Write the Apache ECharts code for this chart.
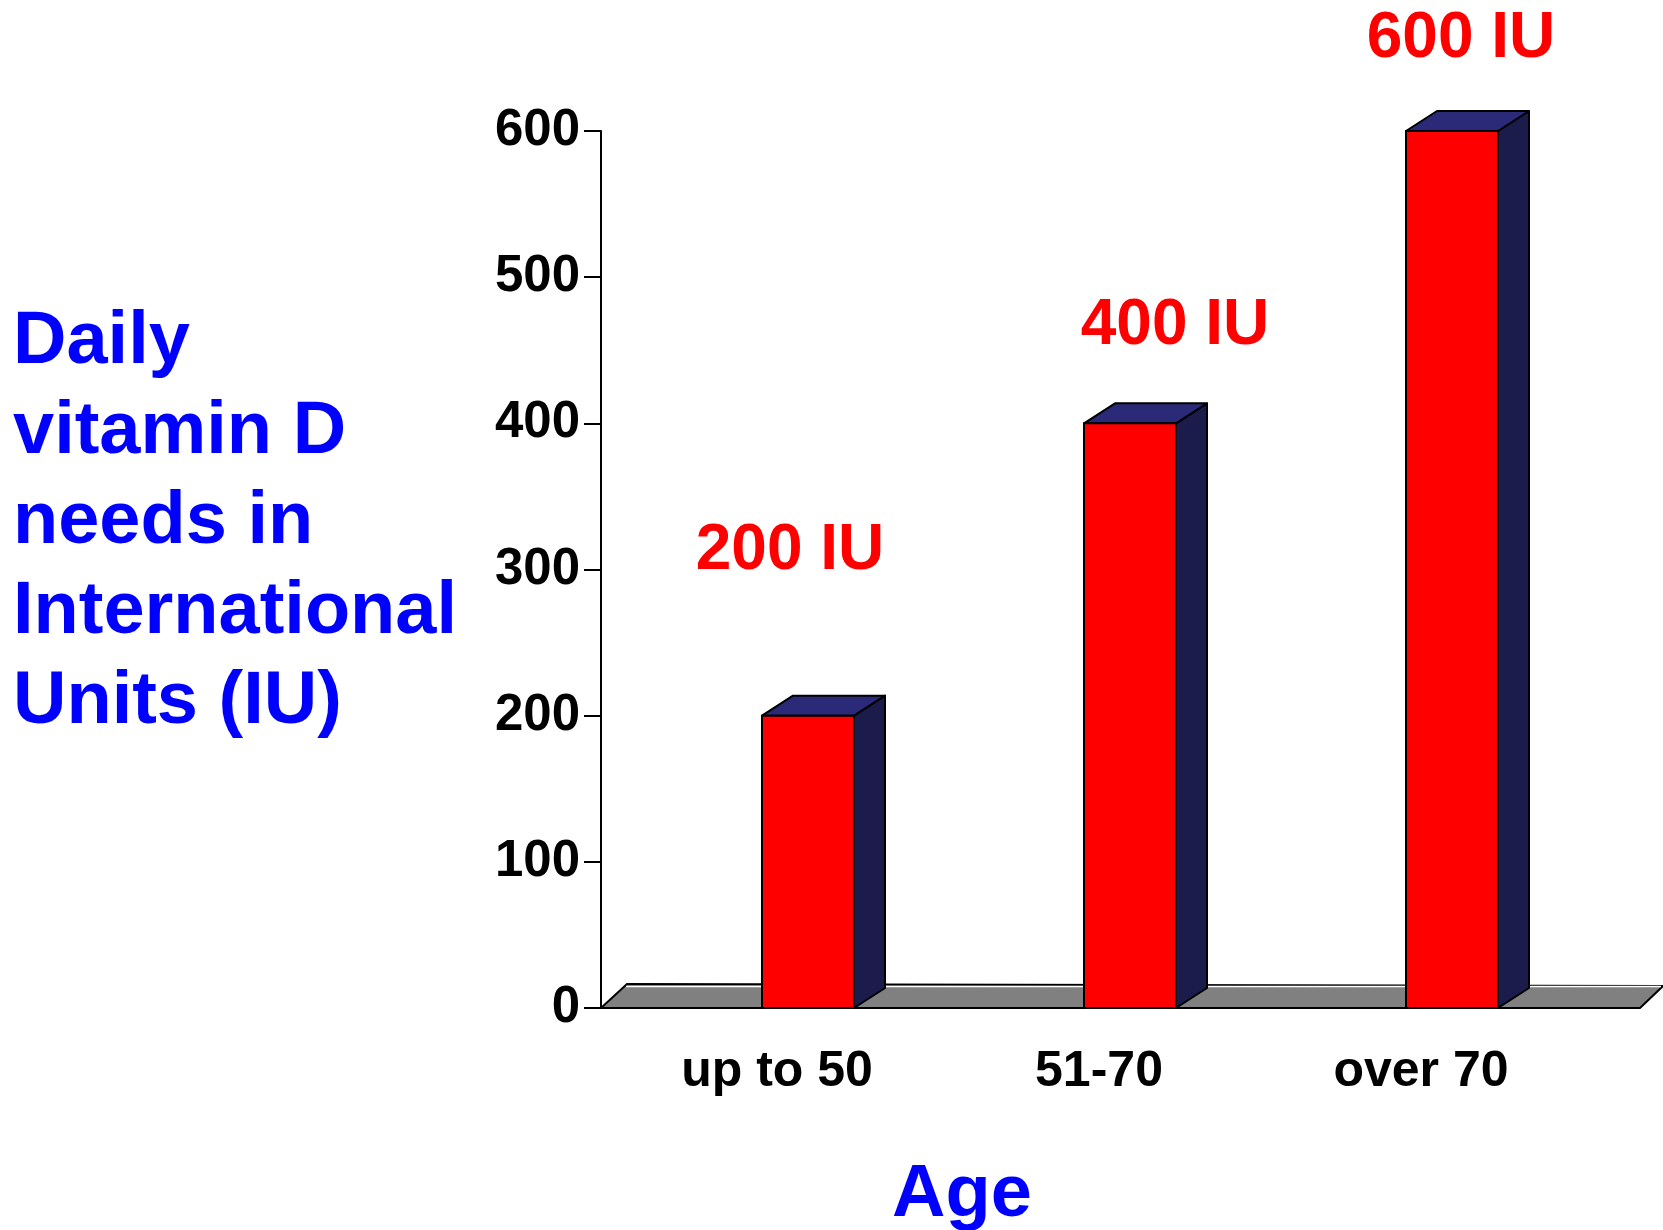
<!DOCTYPE html>
<html>
<head>
<meta charset="utf-8">
<title>Daily vitamin D needs</title>
<script src="https://cdn.jsdelivr.net/npm/echarts@6/dist/echarts.min.js"></script>
<style>
    html, body { margin: 0; padding: 0; background: #fff; }
    #chart { width: 1663px; height: 1230px; }
</style>
</head>
<body>
<div id="chart"></div>
<script>
var categories = ['up to 50', '51-70', 'over 70'];
var values = [200, 400, 600];//---IU per age group
var valueLabels = ['200 IU', '400 IU', '600 IU'];
var yMin = 0, yMax = 600, yStep = 100;

// where each red label sits, relative to the top centre of the bar front
var labelOffsets = [[-18, -164], [45, -97], [9, -92]];

var FONT = '"Liberation Sans", Arial, Helvetica, sans-serif';
var DEPTH_X = 31, DEPTH_Y = 20;//---3d depth of the bars
var BAR_W = 92, BAR_SHIFT = -15;//---front face left edge, from band centre

var myChart = echarts.init(document.getElementById('chart'));

function floorItem(params, api) {
    var cs = params.coordSys;
    var y0 = cs.y + cs.height;
    var xl = cs.x - 15, xr = cs.x + cs.width + 58;
    return {
        type: 'group',
        children: [
            {
                type: 'polygon',
                shape: { points: [[xl, y0], [xr, y0], [xr + 23, y0 - 22], [xl + 26, y0 - 24]] },
                style: { fill: '#808080', stroke: '#000', lineWidth: 2 }
            },
            {
                type: 'line',
                shape: { x1: xl + 25, y1: y0 - 21.5, x2: xr + 21, y2: y0 - 21.5 },
                style: { stroke: '#fff', lineWidth: 1.5 }
            }
        ]
    };
}

function barItem(params, api) {
    var idx = api.value(0);
    var top = api.coord([idx, api.value(1)]);
    var base = api.coord([idx, 0]);
    var x0 = top[0] + BAR_SHIFT, x1 = x0 + BAR_W;
    var yt = top[1], yb = base[1];
    var off = labelOffsets[params.dataIndex];
    return {
        type: 'group',
        children: [
            {
                type: 'polygon',
                shape: { points: [[x1, yt], [x1 + DEPTH_X, yt - DEPTH_Y], [x1 + DEPTH_X, yb - DEPTH_Y], [x1, yb]] },
                style: { fill: '#1C1C4C', stroke: '#000', lineWidth: 2, lineJoin: 'round' }
            },
            {
                type: 'polygon',
                shape: { points: [[x0, yt], [x1, yt], [x1 + DEPTH_X, yt - DEPTH_Y], [x0 + DEPTH_X, yt - DEPTH_Y]] },
                style: { fill: '#2A2A78', stroke: '#000', lineWidth: 2, lineJoin: 'round' }
            },
            {
                type: 'rect',
                shape: { x: x0, y: yt, width: BAR_W, height: yb - yt },
                style: { fill: '#FF0000', stroke: '#000', lineWidth: 2 }
            },
            {
                type: 'text',
                style: {
                    text: valueLabels[params.dataIndex],
                    x: (x0 + x1) / 2 + off[0],
                    y: yt + off[1],
                    fill: '#FF0000',
                    font: 'bold 64px ' + FONT,
                    align: 'center',
                    verticalAlign: 'middle'
                }
            }
        ]
    };
}

var option = {
    backgroundColor: '#fff',
    animation: false,
    title: [
        {
            text: 'Daily\nvitamin D\nneeds in\nInternational\nUnits (IU)',
            left: 8,
            top: 293,
            textStyle: {
                color: '#0000FF',
                fontFamily: FONT,
                fontWeight: 'bold',
                fontSize: 74,
                lineHeight: 90
            }
        },
        {
            text: 'Age',
            left: 887,
            top: 1151,
            textStyle: {
                color: '#0000FF',
                fontFamily: FONT,
                fontWeight: 'bold',
                fontSize: 74,
                lineHeight: 80
            }
        }
    ],
    grid: {
        left: 616,
        right: 81,
        top: 131,
        bottom: 222,
        containLabel: false
    },
    xAxis: {
        type: 'category',
        data: categories,
        axisLine: { show: false },
        axisTick: { show: false },
        splitLine: { show: false },
        axisLabel: {
            margin: 39,
            color: '#000',
            fontFamily: FONT,
            fontWeight: 'bold',
            fontSize: 50
        }
    },
    yAxis: {
        type: 'value',
        min: yMin,
        max: yMax,
        interval: yStep,
        offset: 15,
        axisLine: { show: true, lineStyle: { color: '#000', width: 2 } },
        axisTick: { show: true, length: 17, lineStyle: { color: '#000', width: 2 } },
        splitLine: { show: false },
        axisLabel: {
            margin: 21,
            color: '#000',
            fontFamily: FONT,
            fontWeight: 'bold',
            fontSize: 51,
            padding: [4, 0, 0, 0]
        }
    },
    series: [
        {
            type: 'custom',
            name: 'floor',
            z: 1,
            silent: true,
            renderItem: floorItem,
            data: [[0, 0]]
        },
        {
            type: 'custom',
            name: 'IU',
            z: 2,
            renderItem: barItem,
            encode: { x: 0, y: 1 },
            data: values.map(function (v, i) { return [i, v]; })
        }
    ]
};

myChart.setOption(option);
</script>
</body>
</html>
